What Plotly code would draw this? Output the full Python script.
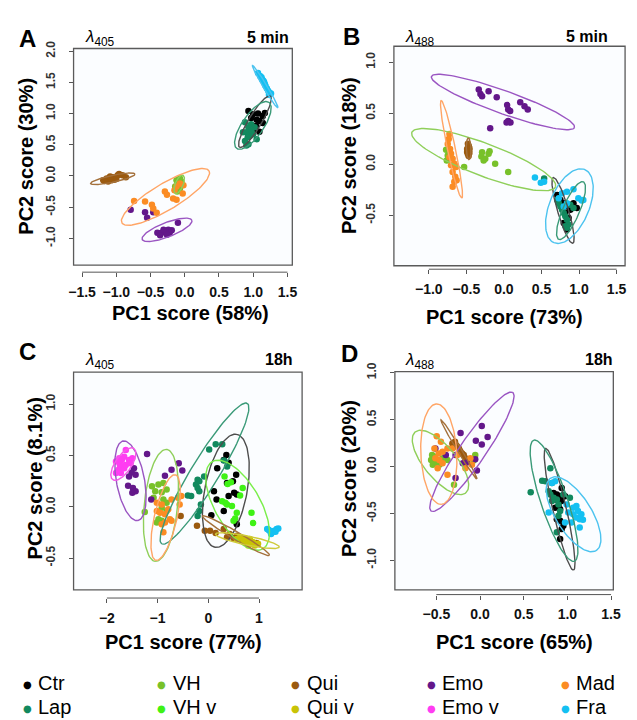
import numpy as np
import plotly.graph_objects as go

W, H = 637, 720

GROUPS = ["Ctr", "Lap", "VH", "VH v", "Qui", "Qui v", "Emo", "Emo v", "Mad", "Fra"]
POINT_COLORS = {"Ctr": "#000000", "Lap": "#12895e", "VH": "#78c12a", "VH v": "#3ff215",
                "Qui": "#9b5a0f", "Qui v": "#c9c306", "Emo": "#63178a", "Emo v": "#ff3df2",
                "Mad": "#fb8c24", "Fra": "#14c0f2"}
ELLIPSE_COLORS = {"Ctr": "#4d4d4d", "Lap": "#3a9a78", "VH": "#8fcf5a", "VH v": "#7aee4a",
                  "Qui": "#a4713c", "Qui v": "#cfcb3a", "Emo": "#9a55c2", "Emo v": "#f55be8",
                  "Mad": "#ffa566", "Fra": "#4cc3ef"}
LEGEND_ROW1 = ["Ctr", "VH", "Qui", "Emo", "Mad"]
LEGEND_ROW2 = ["Lap", "VH v", "Qui v", "Emo v", "Fra"]

# ---------------- Panel A (lambda 405, 5 min) ----------------
PTS_A = {
    "Ctr": ([0.93, 1.00, 1.07, 1.14, 1.09, 1.04, 1.14, 1.00, 1.09, 1.17, 0.97, 1.05],
            [1.04, 0.99, 1.00, 0.96, 0.88, 0.80, 0.85, 0.72, 0.71, 1.01, 0.93, 0.90]),
    "Lap": ([0.88, 0.93, 0.97, 0.90, 0.95, 1.00, 0.88, 0.93, 1.05, 1.02, 0.90, 0.97, 0.85, 0.92],
            [0.86, 0.78, 0.83, 0.70, 0.64, 0.67, 0.56, 0.51, 0.59, 0.78, 0.49, 0.73, 0.70, 0.62]),
    "VH": ([-0.12, -0.10, -0.07, -0.11, -0.05, -0.14, -0.07, -0.09, -0.12],
           [-0.07, -0.12, -0.20, -0.25, -0.09, -0.17, -0.04, -0.15, -0.19]),
    "Qui": ([-1.19, -1.14, -1.10, -1.03, -0.98, -0.96, -0.91, -0.86, -1.12, -1.07, -1.05, -1.17, -1.00, -1.09],
            [-0.07, -0.04, -0.03, -0.06, 0.01, 0.03, 0.01, -0.02, -0.09, -0.07, -0.02, -0.08, -0.05, -0.01]),
    "Emo": ([-0.79, -0.58, -0.55, -0.46, -0.40, -0.34, -0.29, -0.24, -0.22, -0.26, -0.19, -0.10, -0.31, -0.36],
            [-0.54, -0.58, -0.67, -0.58, -0.91, -0.91, -0.88, -0.86, -0.91, -0.94, -0.87, -0.75, -0.86, -0.95]),
    "Mad": ([-0.74, -0.58, -0.48, -0.46, -0.41, -0.29, -0.26, -0.15, -0.12, -0.07, -0.03, -0.17, -0.12, -0.02],
            [-0.40, -0.41, -0.46, -0.52, -0.59, -0.25, -0.30, -0.23, -0.17, -0.12, -0.28, -0.36, -0.38, -0.15]),
    "Fra": ([1.07, 1.10, 1.12, 1.13, 1.15, 1.16, 1.17, 1.18, 1.20, 1.22, 1.24, 1.26, 1.23, 1.14],
            [1.65, 1.60, 1.58, 1.55, 1.52, 1.50, 1.47, 1.44, 1.40, 1.36, 1.33, 1.32, 1.30, 1.53]),
}
# ellipse: major-axis end 1 (x, y), end 2 (x, y), minor/major ratio
ELL_A = {
    "Ctr": (0.80, 0.46, 1.25, 1.28, 0.22),
    "Lap": (0.76, 0.44, 1.23, 1.18, 0.38),
    "Fra": (0.99, 1.77, 1.36, 1.09, 0.08),
    "Qui": (-1.376, -0.12, -0.727, 0.03, 0.15),
    "VH": (-0.136, -0.28, -0.026, 0.012, 0.40),
    "Mad": (-0.918, -0.752, 0.355, 0.081, 0.26),
    "Emo": (-0.622, -1.016, 0.103, -0.709, 0.27),
}

# ---------------- Panel B (lambda 488, 5 min) ----------------
PTS_B = {
    "Emo": ([-0.335, -0.313, -0.291, -0.204, -0.096, 0.043, 0.057, 0.083, 0.217, 0.274, 0.317, 0.035, 0.057, -0.183, 0.087],
            [0.732, 0.690, 0.667, 0.716, 0.658, 0.580, 0.538, 0.522, 0.609, 0.570, 0.538, 0.409, 0.425, 0.354, 0.409]),
    "Mad": ([-0.726, -0.735, -0.748, -0.717, -0.704, -0.726, -0.683, -0.661, -0.704, -0.639, -0.683, -0.648, -0.661, -0.683, -0.630],
            [0.296, 0.247, 0.199, 0.150, 0.102, 0.069, 0.053, 0.005, -0.011, -0.027, -0.076, -0.124, -0.173, -0.221, -0.157]),
    "Qui": ([-0.48, -0.47, -0.49, -0.46, -0.47, -0.48, -0.46, -0.49, -0.47, -0.48, -0.47, -0.46],
            [0.20, 0.17, 0.15, 0.14, 0.12, 0.10, 0.16, 0.12, 0.08, 0.13, 0.18, 0.11]),
    "VH": ([-0.770, -0.748, -0.761, -0.726, -0.639, -0.530, -0.300, -0.270, -0.248, -0.204, -0.191, -0.117, 0.057, -0.291],
           [0.141, 0.086, 0.037, 0.102, -0.021, -0.027, 0.076, 0.037, 0.053, 0.102, 0.128, 0.005, -0.076, 0.118]),
    "Fra": ([0.413, 0.491, 0.535, 0.774, 0.839, 0.926, 0.991, 1.035, 1.057, 0.796, 0.839, 0.730],
            [-0.131, -0.183, -0.173, -0.286, -0.270, -0.247, -0.334, -0.357, -0.351, -0.415, -0.383, -0.334]),
    "Lap": ([0.535, 0.709, 0.730, 0.752, 0.774, 0.796, 0.817, 0.839, 0.861, 0.883, 0.926, 0.817, 0.839],
            [-0.141, -0.351, -0.383, -0.415, -0.448, -0.480, -0.512, -0.545, -0.593, -0.399, -0.431, -0.609, -0.625]),
    "Ctr": ([0.709, 0.752, 0.796, 0.839, 0.883, 0.774, 0.817, 0.926, 0.970, 0.861, 0.839, 0.796, 0.730],
            [-0.302, -0.351, -0.383, -0.415, -0.448, -0.415, -0.480, -0.383, -0.431, -0.528, -0.641, -0.577, -0.367]),
}
ELL_B = {
    "Emo": (-0.965, 0.861, 0.939, 0.360, 0.15),
    "Mad": (-0.835, 0.625, -0.561, -0.334, 0.08),
    "Qui": (-0.474, 0.257, -0.465, 0.044, 0.22),
    "VH": (-1.226, 0.312, 0.687, -0.222, 0.21),
    "Fra": (1.078, -0.053, 0.665, -0.770, 0.50),
    "Lap": (1.057, -0.173, 0.730, -0.738, 0.27),
    "Ctr": (0.657, -0.131, 0.917, -0.777, 0.16),
}

# ---------------- Panel C (lambda 405, 18h) ----------------
PTS_C = {
    "Emo v": ([-1.820, -1.756, -1.705, -1.659, -1.627, -1.563, -1.498, -1.743, -1.692, -1.820, -1.724, -1.659, -1.627, -1.531, -1.769],
              [0.439, 0.471, 0.455, 0.487, 0.551, 0.455, 0.471, 0.407, 0.391, 0.327, 0.327, 0.375, 0.407, 0.423, 0.359]),
    "Emo": ([-1.208, -0.725, -0.583, -0.513, -0.855, -1.466, -1.511, -1.563, -1.434, -1.582, -1.486, -1.434, -1.498, -1.125],
            [0.513, 0.359, 0.423, 0.353, 0.301, 0.375, 0.333, 0.295, 0.311, 0.205, 0.183, 0.151, 0.135, 0.071]),
    "VH": ([-1.111, -0.983, -0.886, -1.047, -0.919, -0.822, -1.079, -0.886, -0.822, -0.919, -0.822, -0.983, -0.919, -1.253, -1.015],
           [0.199, 0.215, 0.231, 0.151, 0.141, 0.167, 0.087, 0.071, 0.038, -0.010, -0.042, -0.122, -0.138, -0.051, -0.154]),
    "Mad": ([-1.015, -0.919, -0.790, -0.725, -0.597, -0.565, -0.533, -1.015, -0.855, -0.758, -0.919, -0.855, -0.725, -0.886, -0.951],
            [0.038, 0.022, -0.026, 0.071, 0.087, 0.022, 0.103, -0.042, -0.074, -0.122, -0.170, -0.154, -0.138, -0.250, -0.058]),
    "Lap": ([0.017, 0.146, 0.275, 0.307, 0.371, -0.211, -0.178, -0.243, -0.211, -0.178, -0.082, -0.404, -0.339, -0.178, -0.211, -0.146],
            [0.558, 0.609, 0.609, 0.449, 0.391, 0.263, 0.247, 0.215, 0.183, 0.151, 0.295, 0.109, 0.103, -0.042, -0.090, 0.022]),
    "Ctr": ([0.356, 0.305, 0.401, 0.176, 0.369, 0.485, 0.549, 0.510, 0.562, 0.111, 0.163, 0.401, 0.305, 0.060, 0.562],
            [0.503, 0.455, 0.429, 0.375, 0.231, 0.247, 0.311, 0.135, 0.119, 0.151, 0.071, 0.103, -0.042, -0.083, -0.170]),
    "VH v": ([0.320, 0.380, 0.446, 0.678, 0.272, 0.336, 0.369, 0.466, 0.562, 0.852, 0.884, 0.498, 0.530, 0.627],
             [0.295, 0.220, 0.237, 0.183, 0.054, 0.038, 0.022, 0.006, -0.058, -0.058, -0.160, -0.138, -0.115, 0.109]),
    "Qui": ([-0.545, -0.223, -0.069, 0.034, 0.144, 0.305, 0.421, 0.562, 0.627, 0.756, 0.852, 0.949, 0.369, 0.498],
            [-0.090, -0.186, -0.234, -0.234, -0.256, -0.218, -0.266, -0.282, -0.314, -0.330, -0.346, -0.353, -0.298, -0.308]),
    "Qui v": ([0.562, 0.627, 0.691, 0.756, 0.820, 0.884, 0.917, 0.852, 0.724, 0.981, 0.788],
              [-0.314, -0.298, -0.330, -0.346, -0.314, -0.346, -0.378, -0.362, -0.308, -0.362, -0.378]),
    "Fra": ([1.161, 1.206, 1.258, 1.303, 1.348, 1.380, 1.238, 1.280, 1.325, 1.190],
            [-0.218, -0.234, -0.250, -0.234, -0.218, -0.212, -0.266, -0.241, -0.245, -0.225]),
}
ELL_C = {
    "Emo v": (-1.885, 0.263, -1.466, 0.567, 0.43),
    "Emo": (-1.680, 0.640, -1.390, -0.135, 0.35),
    "VH": (-0.822, 0.558, -1.047, -0.532, 0.30),
    "Mad": (-0.648, 0.311, -1.034, -0.522, 0.26),
    "Lap": (0.769, 1.006, -0.919, -0.362, 0.17),
    "Ctr": (0.562, 0.705, 0.130, -0.395, 0.37),
    "VH v": (0.079, 0.439, 1.077, -0.410, 0.45),
    "Qui": (-0.114, -0.090, 1.206, -0.474, 0.10),
    "Qui v": (0.143, -0.266, 1.400, -0.394, 0.14),
}

# ---------------- Panel D (lambda 488, 18h) ----------------
PTS_D = {
    "Mad": ([-0.496, -0.448, -0.522, -0.474, -0.429, -0.373, -0.317, -0.511, -0.466, -0.429, -0.485, -0.373, -0.111, -0.093, -0.167, -0.261],
            [0.323, 0.263, 0.193, 0.140, 0.158, 0.193, 0.193, 0.088, 0.070, 0.035, -0.018, -0.088, 0.088, 0.018, -0.018, 0.123]),
    "VH": ([-0.549, -0.522, -0.560, -0.504, -0.541, -0.466, -0.485, -0.429, -0.298, -0.055, -0.074, -0.373],
           [0.123, 0.105, 0.070, 0.053, 0.018, 0.018, 0.035, 0.088, -0.193, 0.123, 0.063, 0.070]),
    "Emo": ([0.020, 0.087, -0.048, 0.020, -0.223, -0.392, -0.280, -0.197, -0.149, -0.055, -0.036, -0.280, -0.511],
            [0.432, 0.316, 0.274, 0.235, 0.358, 0.123, 0.123, 0.035, 0.042, 0.077, -0.042, -0.123, 0.193]),
    "Qui": ([-0.317, -0.287, -0.272, -0.261, -0.242, -0.223, -0.205, -0.235, -0.186, -0.167, -0.149],
            [0.246, 0.263, 0.228, 0.211, 0.193, 0.158, 0.140, 0.175, 0.123, 0.088, 0.070]),
    "Lap": ([0.580, 0.711, 0.748, 0.805, 0.823, 0.786, 0.805, 0.842, 0.879, 0.898, 0.917, 0.898, 0.879, 1.029, 0.954, 0.823],
            [-0.274, -0.151, -0.158, -0.018, -0.175, -0.263, -0.298, -0.333, -0.351, -0.404, -0.474, -0.526, -0.702, -0.333, -0.298, -0.368]),
    "Ctr": ([0.935, 0.842, 0.879, 0.917, 0.860, 0.935, 0.973, 0.898, 0.917, 0.860, 0.879, 0.917, 0.954, 0.935, 0.917],
            [-0.228, -0.281, -0.298, -0.316, -0.351, -0.368, -0.316, -0.421, -0.456, -0.439, -0.561, -0.579, -0.632, -0.667, -0.772]),
    "Fra": ([0.786, 0.823, 0.860, 0.991, 1.066, 1.103, 1.122, 1.066, 1.103, 1.141, 1.178, 1.160, 1.010, 0.973, 1.141, 1.047],
            [-0.491, -0.175, -0.158, -0.404, -0.439, -0.421, -0.474, -0.509, -0.544, -0.561, -0.568, -0.509, -0.491, -0.596, -0.649, -0.596]),
}
ELL_D = {
    "Mad": (-0.500, 0.667, -0.444, -0.404, 0.36),
    "VH": (-0.743, 0.368, -0.163, -0.281, 0.41),
    "Emo": (-0.560, -0.474, 0.374, 0.789, 0.18),
    "Qui": (-0.447, 0.498, -0.036, -0.133, 0.06),
    "Lap": (0.615, 0.281, 1.080, -1.010, 0.21),
    "Ctr": (0.752, 0.193, 1.070, -1.105, 0.11),
    "Fra": (0.809, -0.123, 1.332, -0.895, 0.42),
}

# tick values / labels
XT_A = [-1.5, -1.0, -0.5, 0.0, 0.5, 1.0, 1.5]
YT_A = [-1.0, -0.5, 0.0, 0.5, 1.0, 1.5, 2.0]
XT_B = [-1.0, -0.5, 0.0, 0.5, 1.0, 1.5]
YT_B = [-1.0, -0.5, 0.0, 0.5, 1.0]
XT_C = [-2, -1, 0, 1]
YT_C = [-0.5, 0.0, 0.5, 1.0]
XT_D = [-0.5, 0.0, 0.5, 1.0, 1.5]
YT_D = [-1.0, -0.5, 0.0, 0.5, 1.0]

PANEL_LETTERS = ["A", "B", "C", "D"]
WAVELENGTHS = ["405", "488", "405", "488"]
TIMES = ["5 min", "5 min", "18h", "18h"]
X_TITLES = ["PC1 score (58%)", "PC1 score (73%)", "PC1 score (77%)", "PC1 score (65%)"]
Y_TITLES = ["PC2 score (30%)", "PC2 score (18%)", "PC2 score (8.1%)", "PC2 score (20%)"]

# ---------------- layout geometry (pixels) ----------------
PANELS = [
    dict(box=(70, 40, 293.3, 259.3), axy=266.5, xr=(-1.624, 1.571), yr=(-1.427, 2.042),
         pts=PTS_A, ell=ELL_A, xt=XT_A, yt=YT_A, xd=1,
         letter=(23, 30), lam=(97, 29), time=(268, 29), xtitle=(189, 308), ytitle=(22, 149)),
    dict(box=(397, 37.7, 633, 260), axy=263.5, xr=(-1.465, 1.613), yr=(-0.997, 1.158),
         pts=PTS_B, ell=ELL_B, xt=XT_B, yt=YT_B, xd=1,
         letter=(354, 28), lam=(424, 29), time=(594, 28), xtitle=(510, 312), ytitle=(351, 148)),
    dict(box=(70, 367.7, 303.3, 588.3), axy=596.5, xr=(-2.657, 1.85), yr=(-0.811, 1.311),
         pts=PTS_C, ell=ELL_C, xt=XT_C, yt=YT_C, xd=0,
         letter=(23, 347), lam=(97, 356), time=(280, 355), xtitle=(182, 641), ytitle=(31, 475)),
    dict(box=(398, 367.3, 621, 588.3), axy=593, xr=(-0.975, 1.526), yr=(-1.316, 1.011),
         pts=PTS_D, ell=ELL_D, xt=XT_D, yt=YT_D, xd=1,
         letter=(352, 349), lam=(424, 356), time=(606, 355), xtitle=(520, 641), ytitle=(351, 475)),
]


def PX(px):
    return px / W


def PY(py):
    return 1 - py / H


def fmt(v, d):
    return f"{abs(v):.{d}f}"


def ellipse_xy(e, sx, sy, n=120):
    x1, y1, x2, y2, ratio = e
    cx, cy = (x1 + x2) / 2, (y1 + y2) / 2
    ux, uy = (x2 - x1) / 2, (y2 - y1) / 2
    upx, upy = ux * sx, uy * sy
    vpx, vpy = -upy * ratio, upx * ratio
    vx, vy = vpx / sx, vpy / sy
    t = np.linspace(0, 2 * np.pi, n)
    return cx + ux * np.cos(t) + vx * np.sin(t), cy + uy * np.cos(t) + vy * np.sin(t)


fig = go.Figure()
shapes = []
annotations = []
FONT = "Liberation Sans, Arial, sans-serif"

for i, p in enumerate(PANELS):
    k = "" if i == 0 else str(i + 1)
    xn, yn = "x" + k, "y" + k
    l, t, r, b = p["box"]
    sx = (r - l) / (p["xr"][1] - p["xr"][0])
    sy = (b - t) / (p["yr"][1] - p["yr"][0])

    for g in GROUPS:
        if g in p["pts"]:
            xs, ys = p["pts"][g]
            fig.add_trace(go.Scatter(x=xs, y=ys, mode="markers", xaxis=xn, yaxis=yn,
                                     marker=dict(size=6.5, color=POINT_COLORS[g], line=dict(width=0)),
                                     showlegend=False, hoverinfo="skip"))
    for g in GROUPS:
        if g in p["ell"]:
            ex, ey = ellipse_xy(p["ell"][g], sx, sy)
            fig.add_trace(go.Scatter(x=ex, y=ey, mode="lines", xaxis=xn, yaxis=yn,
                                     line=dict(color=ELLIPSE_COLORS[g], width=1.4),
                                     showlegend=False, hoverinfo="skip"))

    xt = p["xt"]
    xtxt = [("\u2212" if v < 0 else "") + fmt(v, p["xd"]) for v in xt]
    yt = p["yt"]
    ytxt = [("-" if v < 0 else "") + fmt(v, 1) for v in yt]

    fig.layout["xaxis" + k] = dict(
        domain=[PX(l), PX(r)], range=list(p["xr"]), anchor="free", position=PY(p["axy"]),
        showline=False, showgrid=False, zeroline=False, ticks="outside", ticklen=4,
        tickcolor="#555555", tickwidth=1, tickvals=xt, ticktext=xtxt,
        tickfont=dict(family=FONT, size=14, color="#111111", weight="bold"),
        ticklabelstandoff=3)
    fig.layout["yaxis" + k] = dict(
        domain=[PY(b), PY(t)], range=list(p["yr"]), anchor=xn,
        showline=False, showgrid=False, zeroline=False, ticks="outside", ticklen=4,
        tickcolor="#555555", tickwidth=1, tickvals=yt, ticktext=ytxt, tickangle=-90,
        tickfont=dict(family=FONT, size=12, color="#333333", weight="bold"),
        ticklabelstandoff=9)

    shapes.append(dict(type="rect", xref=xn + " domain", yref=yn + " domain",
                       x0=0, x1=1, y0=0, y1=1, line=dict(color="#5a5a5a", width=1.3), layer="above"))
    shapes.append(dict(type="line", xref=xn, yref="paper", x0=xt[0], x1=xt[-1],
                       y0=PY(p["axy"]), y1=PY(p["axy"]), line=dict(color="#555555", width=1)))

    lx, ly = p["letter"]
    annotations.append(dict(x=PX(lx), y=PY(ly), xref="paper", yref="paper", text=f"<b>{PANEL_LETTERS[i]}</b>",
                            showarrow=False, xanchor="center", yanchor="middle",
                            font=dict(family=FONT, size=24, color="#000000")))
    ax_, ay_ = p["lam"]
    annotations.append(dict(x=PX(ax_), y=PY(ay_), xref="paper", yref="paper",
                            text=f"<i>\u03bb</i><sub>{WAVELENGTHS[i]}</sub>",
                            showarrow=False, xanchor="center", yanchor="middle",
                            font=dict(family=FONT, size=17, color="#000000")))
    tx, ty = p["time"]
    annotations.append(dict(x=PX(tx), y=PY(ty), xref="paper", yref="paper", text=f"<b>{TIMES[i]}</b>",
                            showarrow=False, xanchor="center", yanchor="middle",
                            font=dict(family=FONT, size=16, color="#000000")))
    xtx, xty = p["xtitle"]
    annotations.append(dict(x=PX(xtx), y=PY(xty), xref="paper", yref="paper", text=f"<b>{X_TITLES[i]}</b>",
                            showarrow=False, xanchor="center", yanchor="middle",
                            font=dict(family=FONT, size=20, color="#000000")))
    ytx, yty = p["ytitle"]
    annotations.append(dict(x=PX(ytx), y=PY(yty), xref="paper", yref="paper", text=f"<b>{Y_TITLES[i]}</b>",
                            showarrow=False, xanchor="center", yanchor="middle", textangle=-90,
                            font=dict(family=FONT, size=20, color="#000000")))

# legend drawn as text rows
LEG_X = [23, 160, 297, 435, 572]
LEG_Y = [683, 707]
for row, names in enumerate([LEGEND_ROW1, LEGEND_ROW2]):
    for j, g in enumerate(names):
        annotations.append(dict(x=PX(LEG_X[j]), y=PY(LEG_Y[row] + 1), xref="paper", yref="paper", text="\u25cf",
                                showarrow=False, xanchor="center", yanchor="middle",
                                font=dict(family="DejaVu Sans", size=10, color=POINT_COLORS[g])))
        annotations.append(dict(x=PX(LEG_X[j] + 9), y=PY(LEG_Y[row]), xref="paper", yref="paper", text=g,
                                showarrow=False, xanchor="left", yanchor="middle",
                                font=dict(family=FONT, size=20, color="#000000")))

fig.update_layout(width=W, height=H, autosize=False,
                  margin=dict(l=0, r=0, t=0, b=0, pad=0),
                  paper_bgcolor="#ffffff", plot_bgcolor="#fbfdff",
                  shapes=shapes, annotations=annotations, showlegend=False)

fig.write_html("out.html", config={"displayModeBar": False},
               post_script="document.body.style.margin='0';document.body.style.overflow='hidden';")
